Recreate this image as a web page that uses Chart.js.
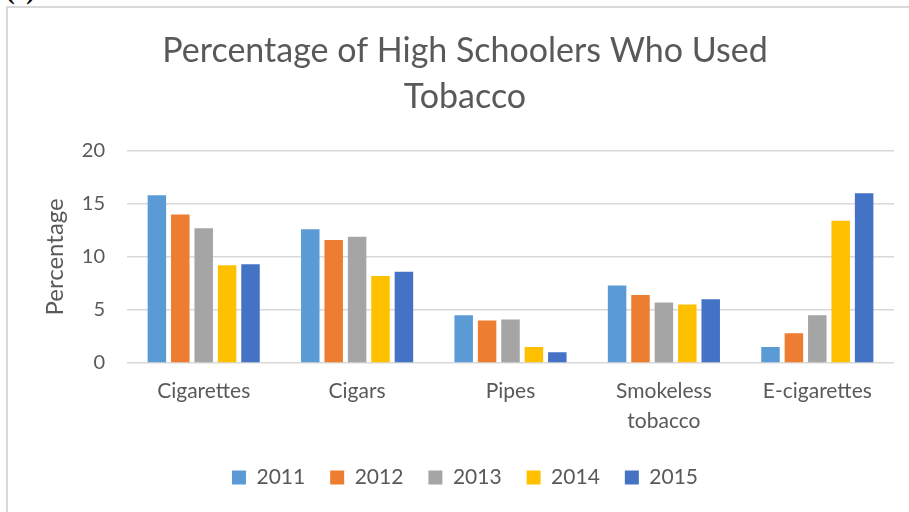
<!DOCTYPE html>
<html>
<head>
<meta charset="utf-8">
<script src="https://cdn.jsdelivr.net/npm/chart.js@4/dist/chart.umd.min.js"></script>
<style>
  html, body { margin: 0; padding: 0; background: #fff; }
  body { width: 909px; height: 512px; position: relative; overflow: hidden; }
  #frame { position: absolute; left: 6px; top: 6px; width: 1000px; height: 1000px;
           border-left: 2px solid #d9d9d9; border-top: 2px solid #d9d9d9; box-sizing: border-box; }
  #lbl { position: absolute; left: 6px; top: -22px; font: bold 26px "Liberation Serif", serif; line-height: 26px; color: #000; }
  #c { position: absolute; left: 0; top: 0; }
</style>
</head>
<body>
<div id="lbl">(c)</div>
<div id="frame"></div>
<canvas id="c" width="909" height="512"></canvas>
<script>
const categories = ['Cigarettes', 'Cigars', 'Pipes', ['Smokeless', 'tobacco'], 'E-cigarettes'];
const years = ['2011', '2012', '2013', '2014', '2015'];
const v2011 = [15.8, 12.6, 4.5, 7.3, 1.5];
const v2012 = [14.0, 11.6, 4.0, 6.4, 2.8];
const v2013 = [12.7, 11.9, 4.1, 5.7, 4.5];
const v2014 = [9.2, 8.2, 1.5, 5.5, 13.4];
const v2015 = [9.3, 8.6, 1.0, 6.0, 16.0];
const yTicks = [0, 5, 10, 15, 20];
const colors = ['#5B9BD5', '#ED7D31', '#A5A5A5', '#FFC000', '#4472C4'];
const titleLines = ['Percentage of High Schoolers Who Used', 'Tobacco'];

const series = [v2011, v2012, v2013, v2014, v2015];
const FONT = 'Lato';
const TXT = '#595959';

new Chart(document.getElementById('c'), {
  type: 'bar',
  data: {
    labels: categories,
    datasets: series.map((s, i) => ({
      label: years[i],
      data: s,
      backgroundColor: colors[i],
      borderWidth: 0,
      categoryPercentage: 0.763,
      barPercentage: 0.79
    }))
  },
  options: {
    responsive: false,
    animation: false,
    devicePixelRatio: 1,
    layout: { padding: { left: 21, right: 0, top: 0, bottom: 14 } },
    plugins: {
      tooltip: { enabled: false },
      title: {
        display: true,
        text: titleLines,
        color: TXT,
        font: { family: FONT, size: 34, weight: 'normal', lineHeight: 1.35 },
        padding: { top: 28, bottom: 31 }
      },
      legend: {
        position: 'bottom',
        labels: {
          color: TXT,
          font: { family: FONT, size: 21 },
          boxWidth: 14,
          boxHeight: 14,
          padding: 25
        }
      }
    },
    scales: {
      x: {
        grid: { display: false, drawTicks: false },
        border: { display: false },
        afterFit: (s) => { s.height -= 7; },
        ticks: { color: TXT, font: { family: FONT, size: 21, lineHeight: 1.43 }, padding: 13, maxRotation: 0, autoSkip: false }
      },
      y: {
        min: 0, max: 20,
        afterBuildTicks: (s) => { s.ticks = yTicks.map(v => ({ value: v })); },
        afterFit: (s) => { s.width = 106; },
        grid: { color: '#D9D9D9', lineWidth: 1.5, drawTicks: false },
        border: { display: false },
        ticks: { color: TXT, font: { family: FONT, size: 20 }, padding: 22 },
        title: {
          display: true,
          text: 'Percentage',
          color: TXT,
          font: { family: FONT, size: 24, weight: 'normal' },
          padding: { top: 20, bottom: 0 }
        }
      },
      yR: {
        position: 'right',
        display: true,
        grid: { display: false, drawTicks: false },
        border: { display: false },
        ticks: { display: false },
        afterFit: (s) => { s.width = 15; }
      }
    }
  }
});
</script>
</body>
</html>
